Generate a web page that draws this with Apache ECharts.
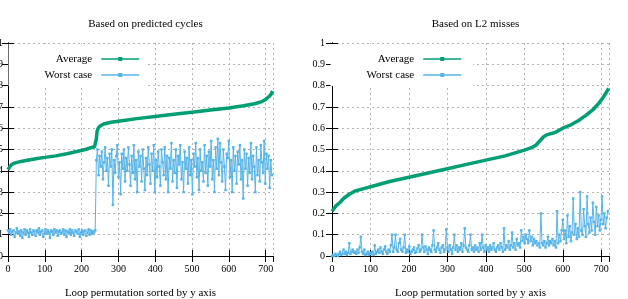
<!DOCTYPE html>
<html>
<head>
<meta charset="utf-8">
<script src="https://cdn.jsdelivr.net/npm/echarts@6/dist/echarts.min.js"></script>
<style>html,body{margin:0;padding:0;background:#fff}#c{width:628px;height:299px}</style>
</head>
<body>
<div id="c"></div>
<script>
// ---- data ----
var titles = ['Based on predicted cycles', 'Based on L2 misses'];
var xName = 'Loop permutation sorted by y axis';
var seriesNames = ['Average', 'Worst case'];

var leftAvgX = [0,5,10,20,30,45,60,80,100,130,160,190,210,225,235,238,240,242,245,250,260,280,300,350,400,450,500,550,600,640,670,690,700,710,715,719];
var leftAvg  = [0.405,0.42,0.43,0.437,0.442,0.447,0.452,0.458,0.463,0.47,0.48,0.492,0.50,0.508,0.513,0.518,0.55,0.585,0.60,0.61,0.62,0.628,0.633,0.645,0.655,0.665,0.675,0.685,0.695,0.705,0.715,0.725,0.735,0.75,0.76,0.775];

var worstStep = 3;
var leftWorst = [
0.12,0.11,0.125,0.10,0.115,0.12,0.09,0.11,0.13,0.105,
0.115,0.095,0.12,0.085,0.11,0.125,0.10,0.12,0.11,0.09,
0.125,0.11,0.10,0.12,0.115,0.095,0.12,0.11,0.13,0.10,
0.115,0.12,0.09,0.11,0.125,0.105,0.12,0.11,0.085,0.12,
0.115,0.10,0.125,0.11,0.12,0.095,0.115,0.12,0.105,0.11,
0.125,0.10,0.12,0.09,0.115,0.11,0.125,0.10,0.12,0.11,
0.095,0.12,0.115,0.105,0.125,0.09,0.11,0.12,0.10,0.115,
0.12,0.095,0.11,0.125,0.10,0.12,0.105,0.115,0.11,0.12,
0.45,0.50,0.38,0.47,0.42,0.49,0.36,0.44,0.51,0.40,
0.46,0.33,0.48,0.42,0.50,0.24,0.45,0.39,0.47,0.52,
0.37,0.44,0.29,0.48,0.41,0.50,0.35,0.46,0.40,0.51,
0.43,0.33,0.47,0.39,0.52,0.36,0.45,0.30,0.49,0.42,
0.47,0.35,0.50,0.41,0.31,0.46,0.38,0.51,0.43,0.34,
0.48,0.40,0.52,0.30,0.45,0.37,0.49,0.42,0.33,0.50,
0.44,0.38,0.51,0.36,0.47,0.30,0.46,0.41,0.53,0.35,
0.45,0.39,0.50,0.32,0.47,0.43,0.52,0.36,0.44,0.30,
0.49,0.41,0.46,0.34,0.51,0.38,0.45,0.29,0.48,0.42,
0.53,0.37,0.46,0.31,0.50,0.40,0.44,0.35,0.52,0.39,
0.47,0.33,0.49,0.42,0.54,0.36,0.45,0.30,0.51,0.41,
0.55,0.38,0.53,0.44,0.35,0.50,0.42,0.31,0.48,0.46,
0.54,0.37,0.45,0.30,0.51,0.40,0.47,0.34,0.49,0.43,
0.52,0.36,0.45,0.27,0.50,0.41,0.48,0.33,0.46,0.39,
0.53,0.36,0.47,0.42,0.30,0.51,0.38,0.45,0.35,0.52,
0.44,0.39,0.54,0.34,0.48,0.41,0.47,0.32,0.45,0.38
];

var rightAvgX = [0,10,20,30,45,60,80,110,150,200,250,300,350,400,450,500,520,530,540,550,560,580,600,620,640,660,680,695,705,712,719];
var rightAvg  = [0.21,0.235,0.25,0.27,0.29,0.305,0.315,0.33,0.35,0.37,0.39,0.41,0.43,0.45,0.47,0.497,0.51,0.52,0.54,0.56,0.57,0.58,0.60,0.615,0.635,0.66,0.69,0.72,0.745,0.765,0.787];

var rightWorst = [
0.0,0.005,0.0,0.01,0.005,0.0,0.01,0.02,0.005,0.01,
0.03,0.01,0.02,0.005,0.015,0.06,0.01,0.02,0.03,0.015,
0.02,0.01,0.03,0.015,0.04,0.09,0.02,0.01,0.03,0.005,
0.01,0.02,0.005,0.015,0.01,0.02,0.005,0.05,0.01,0.02,
0.03,0.015,0.04,0.02,0.01,0.03,0.045,0.02,0.01,0.03,
0.02,0.05,0.1,0.02,0.04,0.1,0.03,0.02,0.06,0.08,
0.03,0.02,0.04,0.1,0.015,0.03,0.02,0.045,0.01,0.02,
0.03,0.04,0.015,0.02,0.035,0.05,0.02,0.03,0.1,0.04,
0.02,0.045,0.03,0.01,0.04,0.03,0.02,0.05,0.12,0.03,
0.02,0.04,0.06,0.03,0.015,0.04,0.05,0.02,0.03,0.125,
0.04,0.02,0.05,0.03,0.01,0.04,0.1,0.03,0.05,0.02,
0.04,0.03,0.06,0.02,0.05,0.13,0.04,0.03,0.02,0.05,
0.1,0.03,0.04,0.02,0.05,0.03,0.04,0.02,0.06,0.03,
0.1,0.04,0.02,0.05,0.03,0.04,0.02,0.05,0.03,0.04,
0.06,0.03,0.02,0.04,0.05,0.03,0.06,0.04,0.02,0.13,
0.03,0.05,0.04,0.07,0.03,0.05,0.11,0.04,0.06,0.03,
0.08,0.05,0.06,0.04,0.12,0.07,0.09,0.06,0.1,0.08,
0.06,0.12,0.07,0.09,0.05,0.08,0.06,0.07,0.05,0.06,
0.04,0.2,0.06,0.05,0.07,0.04,0.06,0.09,0.05,0.07,
0.06,0.08,0.05,0.07,0.04,0.21,0.06,0.1,0.07,0.12,
0.17,0.08,0.12,0.06,0.19,0.09,0.14,0.07,0.11,0.27,
0.1,0.15,0.08,0.13,0.09,0.3,0.12,0.1,0.22,0.14,
0.09,0.28,0.15,0.11,0.18,0.12,0.25,0.16,0.1,0.23,
0.14,0.19,0.12,0.17,0.28,0.15,0.2,0.13,0.18,0.21
];

// ---- build ----
function pairs(xs, ys) { return ys.map(function (v, i) { return [xs[i], v]; }); }
function stepPairs(ys, step) { return ys.map(function (v, i) { return [i * step, v]; }); }

var FONT = 'Liberation Serif';
var GREEN = '#009e73', BLUE = '#56b4e9';
var grids = [
  { left: 8, top: 43, width: 265, height: 213, outerBoundsMode: 'none', containLabel: false },
  { left: 332, top: 43, width: 277, height: 213, outerBoundsMode: 'none', containLabel: false }
];
var centers = [grids[0].left + grids[0].width / 2, grids[1].left + grids[1].width / 2];

var xAxes = [], yAxes = [];
var axisLine = { show: true, lineStyle: { color: '#000', width: 1 } };
var tick = { show: true, inside: true, length: 6, lineStyle: { color: '#000' } };
var split = { show: true, lineStyle: { color: '#b4b4b4', type: [2, 3], width: 1 } };
for (var g = 0; g < 2; g++) {
  xAxes.push({
    type: 'value', gridIndex: g, min: 0, max: 720, interval: 100, position: 'bottom',
    name: xName, nameLocation: 'middle', nameGap: 32,
    nameTextStyle: { fontFamily: FONT, fontSize: 11, color: '#000' },
    axisLine: axisLine, axisTick: tick, splitLine: split,
    axisLabel: { fontFamily: FONT, fontSize: 10, color: '#000', margin: 8, showMaxLabel: false }
  });
  xAxes.push({
    type: 'value', gridIndex: g, min: 0, max: 720, interval: 100, position: 'top',
    axisLine: axisLine, axisTick: tick, splitLine: { show: false }, axisLabel: { show: false }
  });
  yAxes.push({
    type: 'value', gridIndex: g, min: 0, max: 1, interval: 0.1, position: 'left',
    axisLine: axisLine, axisTick: tick, splitLine: split,
    axisLabel: { fontFamily: FONT, fontSize: 10, color: '#000', margin: g === 0 ? 5 : 7 }
  });
  yAxes.push({
    type: 'value', gridIndex: g, min: 0, max: 1, interval: 0.1, position: 'right',
    axisLine: axisLine, axisTick: tick, splitLine: { show: false }, axisLabel: { show: false }
  });
}

function avgSeries(data, g) {
  return { name: seriesNames[0], type: 'line', xAxisIndex: g * 2, yAxisIndex: g * 2, data: data,
    symbol: 'rect', symbolSize: 3, showSymbol: false, lineStyle: { color: GREEN, width: 3.5 }, itemStyle: { color: GREEN },
    animation: false, z: 3 };
}
function worstSeries(data, g) {
  return { name: seriesNames[1], type: 'line', xAxisIndex: g * 2, yAxisIndex: g * 2, data: data,
    symbol: 'rect', symbolSize: 2.5, showSymbol: true, lineStyle: { color: BLUE, width: 1 }, itemStyle: { color: BLUE },
    animation: false, z: 2 };
}

// legend boxes (white key background like gnuplot)
var legendBoxRight = [147, 473];
var legendPad = [[8, 7, 4, 36], [8, 11, 4, 36]];
var legends = legendBoxRight.map(function (r, i) {
  return {
    data: seriesNames, orient: 'vertical', align: 'right',
    right: 628 - r, top: 44, itemWidth: 38, itemHeight: 5, itemGap: 2,
    padding: legendPad[i], backgroundColor: '#fff',
    selectedMode: false,
    lineStyle: { width: 1.5 },
    textStyle: { fontFamily: FONT, fontSize: 11, color: '#000', lineHeight: 14, padding: [0, 4, 0, 0] }
  };
});

var chart = echarts.init(document.getElementById('c'), null, { renderer: 'canvas' });
chart.setOption({
  animation: false,
  backgroundColor: '#fff',
  title: titles.map(function (t, i) {
    return { text: t, left: centers[i], top: 14, textAlign: 'center',
      textStyle: { fontFamily: FONT, fontSize: 11, fontWeight: 'normal', color: '#000' } };
  }),
  grid: grids,
  xAxis: xAxes,
  yAxis: yAxes,
  legend: legends,
  series: [
    avgSeries(pairs(leftAvgX, leftAvg), 0),
    worstSeries(stepPairs(leftWorst, worstStep), 0),
    avgSeries(pairs(rightAvgX, rightAvg), 1),
    worstSeries(stepPairs(rightWorst, worstStep), 1)
  ]
});
</script>
</body>
</html>
